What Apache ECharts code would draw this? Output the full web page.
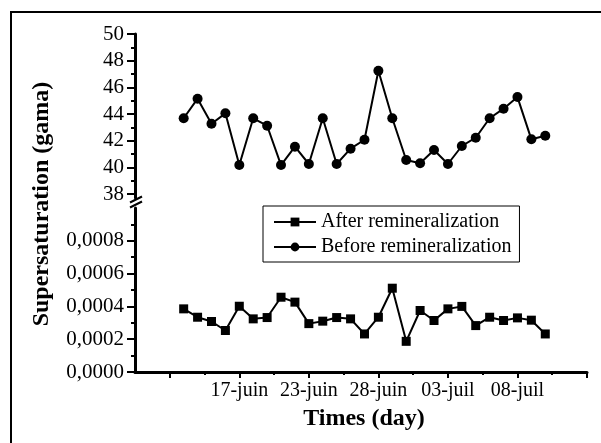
<!DOCTYPE html>
<html><head><meta charset="utf-8">
<script src="https://cdn.jsdelivr.net/npm/echarts@6/dist/echarts.min.js"></script>
<style>html,body{margin:0;padding:0;background:#fff}#c{width:601px;height:443px}</style>
</head><body><div id="c"></div>
<script>
// ---- data ----
const pointNo = [1,2,3,4,5,6,7,8,9,10,11,12,13,14,15,16,17,18,19,20,21,22,23,24,25,26,27];
const beforeRemin = [43.68,45.15,43.27,44.05,40.17,43.68,43.12,40.17,41.55,40.25,43.68,40.25,41.4,42.07,47.24,43.68,40.55,40.3,41.3,40.25,41.6,42.22,43.68,44.4,45.27,42.1,42.37];
const afterRemin = [0.000385,0.000334,0.000308,0.000253,0.000401,0.000324,0.000332,0.000456,0.000426,0.000295,0.00031,0.000332,0.000324,0.000232,0.000334,0.000511,0.000187,0.000375,0.000314,0.000385,0.0004,0.000283,0.000334,0.000314,0.00033,0.000316,0.000232];
const xTickLabels = ['17-juin','23-juin','28-juin','03-juil','08-juil'];
const xLabelAt = [5,10,15,20,25];
const xMajorTicks = [0,5,10,15,20,25,30];
const xMinorTicks = [2.5,7.5,12.5,17.5,22.5,27.5];
const upperTicks = [38,40,42,44,46,48,50];
const upperMinor = [39,41,43,45,47,49];
const lowerTicks = [0,0.0002,0.0004,0.0006,0.0008];
const lowerMinor = [0.0001,0.0003,0.0005,0.0007,0.0009];

const FONT = "'Liberation Serif','Times New Roman',serif";
const X_MIN = -2.5, X_MAX = 30;
const UP_MIN = 37.7, UP_MAX = 50;
const LO_MIN = 0, LO_MAX = 0.001;

const chart = echarts.init(document.getElementById('c'), null, {renderer:'canvas'});

const axisLine = {show:true, onZero:false, lineStyle:{color:'#000', width:3}};
function mainY(gridIndex, min, max, ticks, fmt){
  return {type:'value', gridIndex, position:'left', offset:0, min, max,
    axisLine, splitLine:{show:false},
    axisTick:{show:true, inside:false, length:8, customValues:ticks, lineStyle:{color:'#000', width:2}},
    axisLabel:{show:true, customValues:ticks, margin:11, color:'#000', fontFamily:FONT, fontSize:21, formatter:fmt}};
}
function minorY(gridIndex, min, max, ticks){
  return {type:'value', gridIndex, position:'left', offset:0, min, max,
    axisLine:{show:false, onZero:false}, splitLine:{show:false}, axisLabel:{show:false},
    axisTick:{show:true, inside:false, length:4, customValues:ticks, lineStyle:{color:'#000', width:2}}};
}

const option = {
  animation:false,
  backgroundColor:'#fff',
  grid:[
    {left:135, right:14, top:34, bottom:245},
    {left:135, right:14, top:208, bottom:71}
  ],
  xAxis:[
    {type:'value', gridIndex:0, min:X_MIN, max:X_MAX, show:false, axisLine:{onZero:false}},
    {type:'value', gridIndex:1, position:'bottom', offset:0, min:X_MIN, max:X_MAX,
      axisLine, splitLine:{show:false},
      axisTick:{show:true, inside:false, length:6, customValues:xMajorTicks, lineStyle:{color:'#000', width:2}},
      axisLabel:{show:true, customValues:xLabelAt, margin:9, color:'#000', fontFamily:FONT, fontSize:20,
        formatter:v => { const k = xLabelAt.indexOf(Math.round(v)); return k >= 0 ? xTickLabels[k] : ''; }}},
    {type:'value', gridIndex:1, position:'bottom', offset:0, min:X_MIN, max:X_MAX,
      axisLine:{show:false, onZero:false}, splitLine:{show:false}, axisLabel:{show:false},
      axisTick:{show:true, inside:false, length:3, customValues:xMinorTicks, lineStyle:{color:'#000', width:2}}}
  ],
  yAxis:[
    mainY(0, UP_MIN, UP_MAX, upperTicks, v => String(Math.round(v))),
    minorY(0, UP_MIN, UP_MAX, upperMinor),
    mainY(1, LO_MIN, LO_MAX, lowerTicks, v => v.toFixed(4).replace('.', ',')),
    minorY(1, LO_MIN, LO_MAX, lowerMinor)
  ],
  legend:{
    left:263, top:206, orient:'vertical',
    data:['After remineralization','Before remineralization'],
    itemWidth:42, itemHeight:11, itemGap:5,
    padding:[6,8,5,10],
    borderColor:'#000', borderWidth:1,
    textStyle:{color:'#000', fontFamily:FONT, fontSize:20, lineHeight:20}
  },
  series:[
    {name:'After remineralization', type:'line', xAxisIndex:1, yAxisIndex:2,
      data: pointNo.map((x,i)=>[x, afterRemin[i]]),
      symbol:'rect', symbolSize:9, showAllSymbol:true,
      lineStyle:{color:'#000', width:2}, itemStyle:{color:'#000'}, z:5},
    {name:'Before remineralization', type:'line', xAxisIndex:0, yAxisIndex:0,
      data: pointNo.map((x,i)=>[x, beforeRemin[i]]),
      symbol:'circle', symbolSize:10, showAllSymbol:true,
      lineStyle:{color:'#000', width:2}, itemStyle:{color:'#000'}, z:5}
  ],
  graphic:[
    {type:'rect', shape:{x:11, y:12, width:620, height:460}, style:{fill:null, stroke:'#000', lineWidth:2}, silent:true, z:0},
    {type:'line', shape:{x1:130, y1:202.5, x2:142, y2:196.5}, style:{stroke:'#000', lineWidth:2}},
    {type:'line', shape:{x1:130, y1:207.5, x2:142, y2:201.5}, style:{stroke:'#000', lineWidth:2}},
    {type:'text', x:42, y:204, rotation:Math.PI/2,
      style:{text:'Supersaturation (gama)', fill:'#000', font:"bold 24px 'Liberation Serif','Times New Roman',serif", align:'center', verticalAlign:'middle'}},
    {type:'text', x:364, y:419,
      style:{text:'Times (day)', fill:'#000', font:"bold 24px 'Liberation Serif','Times New Roman',serif", align:'center', verticalAlign:'middle'}}
  ]
};
chart.setOption(option);
</script>
</body></html>
